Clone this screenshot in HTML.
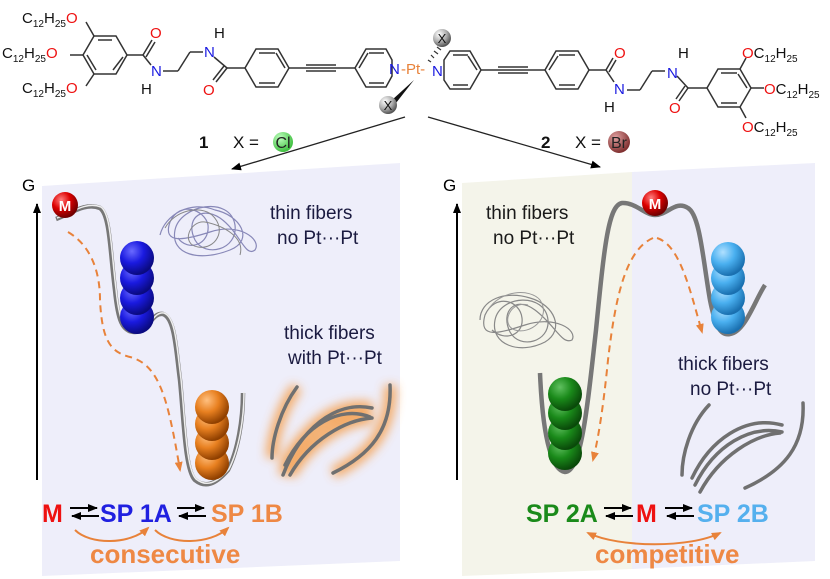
<!DOCTYPE html>
<html><head><meta charset="utf-8"><style>
html,body{margin:0;padding:0;background:#fff;}
svg{display:block;font-family:"Liberation Sans",Arial,sans-serif;}
</style></head><body>
<svg width="830" height="579" viewBox="0 0 830 579" xmlns="http://www.w3.org/2000/svg">
<defs>
<radialGradient id="gr" cx="0.35" cy="0.3" r="0.7"><stop offset="0" stop-color="#ff8080"/><stop offset="0.5" stop-color="#dd0000"/><stop offset="1" stop-color="#700000"/></radialGradient>
<radialGradient id="gb" cx="0.35" cy="0.3" r="0.7"><stop offset="0" stop-color="#6a6aff"/><stop offset="0.5" stop-color="#1a1ae0"/><stop offset="1" stop-color="#0a0a80"/></radialGradient>
<radialGradient id="go" cx="0.35" cy="0.3" r="0.7"><stop offset="0" stop-color="#ffc080"/><stop offset="0.5" stop-color="#e88020"/><stop offset="1" stop-color="#904000"/></radialGradient>
<radialGradient id="gg" cx="0.35" cy="0.3" r="0.7"><stop offset="0" stop-color="#60c060"/><stop offset="0.5" stop-color="#1a8a1a"/><stop offset="1" stop-color="#0a4a0a"/></radialGradient>
<radialGradient id="gl" cx="0.35" cy="0.3" r="0.7"><stop offset="0" stop-color="#b0e0ff"/><stop offset="0.5" stop-color="#4ab0f0"/><stop offset="1" stop-color="#1a70b0"/></radialGradient>
<radialGradient id="gx" cx="0.35" cy="0.3" r="0.7"><stop offset="0" stop-color="#fff"/><stop offset="0.6" stop-color="#aaa"/><stop offset="1" stop-color="#555"/></radialGradient>
<radialGradient id="gcl" cx="0.35" cy="0.3" r="0.7"><stop offset="0" stop-color="#c0ffc0"/><stop offset="1" stop-color="#40c040"/></radialGradient>
<radialGradient id="gbr" cx="0.35" cy="0.3" r="0.7"><stop offset="0" stop-color="#e0a0a0"/><stop offset="1" stop-color="#803030"/></radialGradient>
<filter id="glow" x="-30%" y="-30%" width="160%" height="160%"><feGaussianBlur stdDeviation="5"/></filter>
<marker id="ah" markerWidth="10" markerHeight="8" refX="9" refY="4" orient="auto" markerUnits="userSpaceOnUse"><path d="M0,0 L10,4 L0,8 z" fill="#000"/></marker>
<marker id="ao" markerWidth="10" markerHeight="8" refX="8" refY="4" orient="auto" markerUnits="userSpaceOnUse"><path d="M0,0 L10,4 L0,8 z" fill="#e8823a"/></marker>
<marker id="aos" markerWidth="10" markerHeight="8" refX="2" refY="4" orient="auto" markerUnits="userSpaceOnUse"><path d="M10,0 L0,4 L10,8 z" fill="#e8823a"/></marker>
</defs>

<polygon points="42,186 400,163 400,561 42,576" fill="#eeeefa"/>
<polygon points="462,183 632,172 632,569 462,576" fill="#f4f4ea"/>
<polygon points="632,172 815,163 815,561 632,569" fill="#eeeefa"/>

<line x1="37" y1="480" x2="37" y2="204" stroke="#000" stroke-width="2" marker-end="url(#ah)"/>
<text x="22" y="191" font-size="17">G</text>
<line x1="457" y1="480" x2="457" y2="204" stroke="#000" stroke-width="2" marker-end="url(#ah)"/>
<text x="443" y="191" font-size="17">G</text>

<path d="M56,219 C70,214 85,202 100,208 C110,215 110,250 115,290 C118,320 122,332 135,332 C148,332 152,312 163,314 C175,318 176,350 180,380 C184,420 185,470 195,480 C205,488 215,485 228,470 C238,450 243,420 243,393" fill="none" stroke="#777" stroke-width="4.5"/>
<path d="M56,219 C70,214 85,202 100,208 C110,215 110,250 115,290 C118,320 122,332 135,332 C148,332 152,312 163,314 C175,318 176,350 180,380 C184,420 185,470 195,480 C205,488 215,485 228,470 C238,450 243,420 243,393" fill="none" stroke="#eee" stroke-width="1.5" transform="translate(1,-1)"/>
<circle cx="65" cy="205" r="13" fill="url(#gr)"/>
<text x="65" y="211" font-size="15" font-weight="bold" fill="#fff" text-anchor="middle">M</text>
<g fill="url(#gb)"><circle cx="137" cy="317" r="17"/><circle cx="137" cy="298" r="17"/><circle cx="137" cy="278" r="17"/><circle cx="137" cy="258" r="17"/></g>
<g fill="url(#go)"><circle cx="212" cy="463" r="17"/><circle cx="212" cy="443" r="17"/><circle cx="212" cy="424" r="17"/><circle cx="212" cy="407" r="17"/></g>
<path d="M68,232 C90,245 100,270 100,300 C102,340 110,352 130,357 C160,365 168,400 180,470" fill="none" stroke="#e8823a" stroke-width="2" stroke-dasharray="7,5" marker-end="url(#ao)"/>

<path d="M160,235 C165,215 190,200 215,210 C240,215 255,240 230,250 C200,262 170,255 175,230 C180,205 230,195 235,225 C238,250 205,258 195,240 C185,220 200,205 220,218 C240,232 245,258 255,250 C262,240 240,222 210,232 C185,240 162,245 170,222 C180,200 205,210 208,225 C210,245 188,252 178,238" fill="none" stroke="#8888b8" stroke-width="1.2"/>
<path d="M165,228 C175,210 200,205 212,215 C228,230 215,250 198,247 C180,244 190,220 205,222 C225,226 245,238 240,255" fill="none" stroke="#888" stroke-width="1"/>
<g font-size="19" fill="#1a1a40">
<text x="270" y="219">thin  fibers</text>
<text x="277" y="244">no Pt···Pt</text>
<text x="284" y="339">thick fibers</text>
<text x="288" y="364">with Pt···Pt</text>
</g>

<g filter="url(#glow)" stroke="#f5a050" stroke-width="12" fill="none" opacity="0.85">
<path d="M297,387 C280,410 272,440 272,458"/>
<path d="M283,475 C300,430 335,400 372,408"/>
<path d="M285,465 C305,425 340,405 370,417"/>
<path d="M290,475 C310,440 345,420 372,418"/>
<path d="M390,385 C392,430 370,455 333,473"/>
</g>
<g stroke="#707070" stroke-width="3.5" fill="none" stroke-linecap="round">
<path d="M297,387 C280,410 272,440 272,458"/>
<path d="M283,475 C300,430 335,400 372,408"/>
<path d="M285,465 C305,425 340,405 370,417"/>
<path d="M290,475 C310,440 345,420 372,418"/>
<path d="M390,385 C392,430 370,455 333,473"/>
</g>

<text x="42" y="522" font-size="25" font-weight="bold" fill="#ee1111">M</text>
<g stroke="#000" stroke-width="2"><line x1="70" y1="508" x2="97" y2="508" marker-end="url(#ah)"/><line x1="99" y1="516" x2="72" y2="516" marker-end="url(#ah)"/></g>
<text x="100" y="522" font-size="25" font-weight="bold" fill="#2020e0">SP 1A</text>
<g stroke="#000" stroke-width="2"><line x1="177" y1="508" x2="204" y2="508" marker-end="url(#ah)"/><line x1="206" y1="516" x2="179" y2="516" marker-end="url(#ah)"/></g>
<text x="211" y="522" font-size="25" font-weight="bold" fill="#ee8844">SP 1B</text>
<path d="M75,530 C90,545 130,545 148,528" fill="none" stroke="#e8823a" stroke-width="2" marker-end="url(#ao)"/>
<path d="M155,530 C170,545 210,545 228,528" fill="none" stroke="#e8823a" stroke-width="2" marker-end="url(#ao)"/>
<text x="90" y="563" font-size="26" font-weight="bold" fill="#ee8844">consecutive</text>

<path d="M540,373 C542,420 548,470 565,472 C582,472 588,400 596,330 C604,250 608,205 622,203 C635,202 645,215 655,215 C668,215 675,200 688,208 C700,215 703,260 710,300 C715,325 720,336 730,334 C745,332 755,300 765,285" fill="none" stroke="#777" stroke-width="4.5"/>
<circle cx="655" cy="203" r="13" fill="url(#gr)"/>
<text x="655" y="209" font-size="15" font-weight="bold" fill="#fff" text-anchor="middle">M</text>
<g fill="url(#gg)"><circle cx="565" cy="453" r="17"/><circle cx="565" cy="433" r="17"/><circle cx="565" cy="413" r="17"/><circle cx="565" cy="394" r="17"/></g>
<g fill="url(#gl)"><circle cx="728" cy="317" r="17"/><circle cx="728" cy="298" r="17"/><circle cx="728" cy="278" r="17"/><circle cx="728" cy="259" r="17"/></g>
<path d="M653,238 C625,250 615,300 608,360 C603,410 598,440 593,460" fill="none" stroke="#e8823a" stroke-width="2" stroke-dasharray="7,5" marker-end="url(#ao)"/>
<path d="M657,238 C680,245 690,290 702,332" fill="none" stroke="#e8823a" stroke-width="2" stroke-dasharray="7,5" marker-end="url(#ao)"/>

<path d="M480,320 C480,300 505,290 530,298 C555,305 565,330 545,342 C520,355 490,345 495,320 C500,295 545,292 548,320 C550,342 520,350 510,332 C500,312 515,295 535,310 C555,325 562,345 572,340 C578,330 555,315 525,325 C500,333 478,340 485,315 C495,293 520,300 522,318 C524,335 505,342 492,330" fill="none" stroke="#888" stroke-width="1.2"/>
<path d="M488,310 C500,290 530,288 540,300 C552,318 530,335 515,330 C500,325 510,300 528,305" fill="none" stroke="#999" stroke-width="1"/>
<g font-size="19">
<text x="486" y="219" fill="#1a1a1a">thin  fibers</text>
<text x="493" y="244" fill="#1a1a1a">no Pt···Pt</text>
<text x="678" y="370" fill="#1a1a40">thick fibers</text>
<text x="690" y="395" fill="#1a1a40">no Pt···Pt</text>
</g>
<g stroke="#707070" stroke-width="3.5" fill="none" stroke-linecap="round">
<path d="M709,405 C690,425 682,455 682,475"/>
<path d="M692,478 C710,440 745,415 782,425"/>
<path d="M695,485 C715,445 750,425 782,432"/>
<path d="M700,492 C720,455 755,435 780,433"/>
<path d="M803,403 C805,445 785,470 745,488"/>
</g>

<text x="526" y="522" font-size="25" font-weight="bold" fill="#1a8a1a">SP 2A</text>
<g stroke="#000" stroke-width="2"><line x1="604" y1="508" x2="631" y2="508" marker-end="url(#ah)"/><line x1="633" y1="516" x2="606" y2="516" marker-end="url(#ah)"/></g>
<text x="636" y="522" font-size="25" font-weight="bold" fill="#ee1111">M</text>
<g stroke="#000" stroke-width="2"><line x1="665" y1="508" x2="692" y2="508" marker-end="url(#ah)"/><line x1="694" y1="516" x2="667" y2="516" marker-end="url(#ah)"/></g>
<text x="697" y="522" font-size="25" font-weight="bold" fill="#55b0ee">SP 2B</text>
<path d="M588,533 C620,548 690,548 720,533" fill="none" stroke="#e8823a" stroke-width="2" marker-end="url(#ao)" marker-start="url(#aos)"/>
<text x="595" y="563" font-size="26" font-weight="bold" fill="#ee8844">competitive</text>

<g stroke="#333" stroke-width="1.5" fill="none">
<polygon points="127,55 116,36 94,36 83,55 94,74 116,74"/>
<line x1="98" y1="40" x2="112" y2="40"/><line x1="87" y1="55" x2="96" y2="70"/><line x1="113" y1="70" x2="123" y2="57"/>
<line x1="94" y1="36" x2="86" y2="22"/><line x1="83" y1="55" x2="70" y2="55"/><line x1="94" y1="74" x2="86" y2="86"/>
<line x1="127" y1="55" x2="143" y2="55"/>
<line x1="143" y1="55" x2="152" y2="40"/><line x1="146" y1="57" x2="155" y2="42"/>
<line x1="143" y1="55" x2="151" y2="65"/>
<line x1="163" y1="71" x2="178" y2="71"/><line x1="178" y1="71" x2="190" y2="52"/><line x1="190" y1="52" x2="203" y2="52"/>
<line x1="214" y1="57" x2="227" y2="68"/>
<line x1="227" y1="68" x2="216" y2="82"/><line x1="224" y1="66" x2="213" y2="80"/>
<line x1="227" y1="68" x2="245" y2="68"/>
<polygon points="289,68 278,49 256,49 245,68 256,87 278,87"/>
<line x1="259" y1="53" x2="275" y2="53"/><line x1="259" y1="83" x2="275" y2="83"/><line x1="285" y1="68" x2="276" y2="53"/>
<line x1="289" y1="68" x2="306" y2="68"/><line x1="306" y1="65" x2="336" y2="65"/><line x1="306" y1="68" x2="336" y2="68"/><line x1="306" y1="71" x2="336" y2="71"/><line x1="336" y1="68" x2="355" y2="68"/>
<polygon points="355,68 366,49 386,49 392,60 392,76 386,87 366,87"/>
<line x1="369" y1="53" x2="384" y2="53"/><line x1="369" y1="83" x2="384" y2="83"/><line x1="359" y1="68" x2="368" y2="53"/>
<polygon points="444,60 450,51 470,51 481,70 470,89 450,89 444,80"/>
<line x1="453" y1="55" x2="468" y2="55"/><line x1="453" y1="85" x2="468" y2="85"/><line x1="477" y1="70" x2="468" y2="56"/>
<line x1="481" y1="70" x2="498" y2="70"/><line x1="498" y1="67" x2="528" y2="67"/><line x1="498" y1="70" x2="528" y2="70"/><line x1="498" y1="73" x2="528" y2="73"/><line x1="528" y1="70" x2="545" y2="70"/>
<polygon points="545,70 556,51 578,51 589,70 578,89 556,89"/>
<line x1="559" y1="55" x2="575" y2="55"/><line x1="559" y1="85" x2="575" y2="85"/><line x1="549" y1="70" x2="558" y2="56"/>
<line x1="589" y1="70" x2="606" y2="70"/>
<line x1="606" y1="70" x2="613" y2="58"/><line x1="609" y1="72" x2="616" y2="60"/>
<line x1="606" y1="70" x2="614" y2="82"/>
<line x1="627" y1="90" x2="640" y2="90"/><line x1="640" y1="90" x2="652" y2="71"/><line x1="652" y1="71" x2="665" y2="71"/>
<line x1="677" y1="76" x2="688" y2="88"/>
<line x1="688" y1="88" x2="679" y2="101"/><line x1="685" y1="86" x2="676" y2="99"/>
<line x1="688" y1="88" x2="707" y2="88"/>
<polygon points="707,88 718,69 740,69 751,88 740,107 718,107"/>
<line x1="721" y1="73" x2="737" y2="73"/><line x1="721" y1="103" x2="737" y2="103"/><line x1="747" y1="88" x2="738" y2="74"/>
<line x1="740" y1="69" x2="746" y2="58"/><line x1="751" y1="88" x2="764" y2="88"/><line x1="740" y1="107" x2="746" y2="118"/>
</g>
<polygon points="414,80 392,100 396,103" fill="#111"/>
<g stroke="#333" stroke-width="1.2"><line x1="428" y1="60" x2="431" y2="62"/><line x1="431" y1="55" x2="434" y2="58"/><line x1="434" y1="51" x2="438" y2="54"/><line x1="437" y1="47" x2="441" y2="50"/></g>
<circle cx="388" cy="105" r="9" fill="url(#gx)"/><text x="388" y="110" font-size="13" text-anchor="middle" fill="#111">X</text>
<circle cx="442" cy="38" r="9" fill="url(#gx)"/><text x="442" y="43" font-size="13" text-anchor="middle" fill="#111">X</text>

<g font-size="15">
<text x="22" y="23" fill="#111">C<tspan font-size="10" dy="4">12</tspan><tspan dy="-4">H</tspan><tspan font-size="10" dy="4">25</tspan><tspan dy="-4" fill="#ee1111">O</tspan></text>
<text x="2" y="58" fill="#111">C<tspan font-size="10" dy="4">12</tspan><tspan dy="-4">H</tspan><tspan font-size="10" dy="4">25</tspan><tspan dy="-4" fill="#ee1111">O</tspan></text>
<text x="22" y="93" fill="#111">C<tspan font-size="10" dy="4">12</tspan><tspan dy="-4">H</tspan><tspan font-size="10" dy="4">25</tspan><tspan dy="-4" fill="#ee1111">O</tspan></text>
<text x="150" y="38" fill="#ee1111">O</text>
<text x="151" y="76" fill="#1a1ae0">N</text>
<text x="141" y="94" fill="#111">H</text>
<text x="204" y="57" fill="#1a1ae0">N</text>
<text x="214" y="38" fill="#111">H</text>
<text x="203" y="95" fill="#ee1111">O</text>
<text x="389" y="74" fill="#1a1ae0">N</text>
<text x="401" y="74" fill="#e8823a">-Pt-</text>
<text x="432" y="76" fill="#1a1ae0">N</text>
<text x="614" y="58" fill="#ee1111">O</text>
<text x="614" y="94" fill="#1a1ae0">N</text>
<text x="604" y="112" fill="#111">H</text>
<text x="667" y="78" fill="#1a1ae0">N</text>
<text x="678" y="58" fill="#111">H</text>
<text x="669" y="113" fill="#ee1111">O</text>
<text x="742" y="58" fill="#111"><tspan fill="#ee1111">O</tspan>C<tspan font-size="10" dy="4">12</tspan><tspan dy="-4">H</tspan><tspan font-size="10" dy="4">25</tspan></text>
<text x="764" y="94" fill="#111"><tspan fill="#ee1111">O</tspan>C<tspan font-size="10" dy="4">12</tspan><tspan dy="-4">H</tspan><tspan font-size="10" dy="4">25</tspan></text>
<text x="742" y="132" fill="#111"><tspan fill="#ee1111">O</tspan>C<tspan font-size="10" dy="4">12</tspan><tspan dy="-4">H</tspan><tspan font-size="10" dy="4">25</tspan></text>
</g>

<line x1="405" y1="117" x2="232" y2="169" stroke="#222" stroke-width="1.3" marker-end="url(#ah)"/>
<line x1="428" y1="117" x2="600" y2="167" stroke="#222" stroke-width="1.3" marker-end="url(#ah)"/>
<text x="199" y="148" font-size="17" font-weight="bold" fill="#111">1</text>
<text x="233" y="148" font-size="17" fill="#111">X =</text>
<circle cx="283" cy="142" r="10" fill="url(#gcl)"/><text x="283" y="148" font-size="16" text-anchor="middle" fill="#222">Cl</text>
<text x="541" y="148" font-size="17" font-weight="bold" fill="#111">2</text>
<text x="575" y="148" font-size="17" fill="#111">X =</text>
<circle cx="619" cy="142" r="11" fill="url(#gbr)"/><text x="619" y="148" font-size="16" text-anchor="middle" fill="#222">Br</text>
</svg>
</body></html>
